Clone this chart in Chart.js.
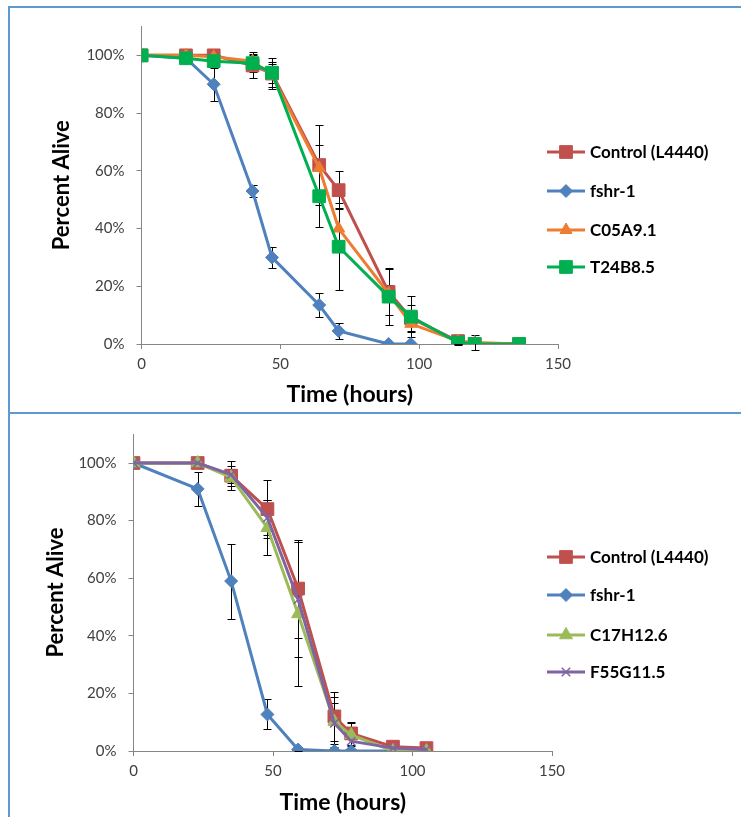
<!DOCTYPE html>
<html>
<head>
<meta charset="utf-8">
<script src="https://cdn.jsdelivr.net/npm/chart.js@4.4.1/dist/chart.umd.min.js"></script>
<style>
  html, body { margin: 0; padding: 0; background: #fff; }
  #page { position: relative; width: 741px; height: 817px; overflow: hidden; }
  .panel { position: absolute; left: 0; }
  .line { position: absolute; background: #5b9bd5; }
</style>
</head>
<body>
<div id="page">
  <div class="line" style="left:8px;top:6px;width:733px;height:2px"></div>
  <div class="line" style="left:8px;top:6px;width:2px;height:811px"></div>
  <div class="line" style="left:8px;top:412px;width:733px;height:2px"></div>
  <div class="panel" style="top:0"><canvas id="chartTop" width="741" height="412"></canvas></div>
  <div class="panel" style="top:413px"><canvas id="chartBottom" width="741" height="404"></canvas></div>
</div>
<script>
// ---- top panel data (hours, percent alive, +/- error) ----
const topTimes = [0, 16, 26, 40, 47, 64, 71, 89, 97, 114, 120, 136];
const topControl = [100, 100, 100, 96.5, 93.7, 62, 53.3, 18, 9, 1, 0, 0];
const topControlErr = [0, 1, 1.5, 4.5, 5.5, 14, 6.5, 8, 4.5, 1, 0, 0];
const topFshr = [100, 99, 90, 53, 30, 13.5, 4.5, 0, 0];
const topFshrErr = [0, 1, 5.7, 2, 3.5, 4, 2.7, 0, 0];
const topC05 = [100, 100, 99.5, 98, 93, 61, 40, 17.5, 7, 1, 0.5, 0];
const topC05Err = [0, 0.5, 1, 2, 4, 8, 7, 3, 3, 1, 2.5, 0];
const topT24 = [100, 99, 98, 97.3, 94, 51.2, 33.7, 16.4, 9.5, 0.5, 0, 0];
const topT24Err = [0, 1, 1.5, 3, 3.7, 10.6, 15, 9.8, 7, 1, 0, 0];

// ---- bottom panel data ----
const botTimes = [0, 23, 35, 48, 59, 72, 78, 93, 105];
const botControl = [100, 100, 95.6, 84, 56.4, 12, 6.1, 1.5, 1];
const botControlErr = [0, 0, 5, 10, 17, 8.6, 4, 0.5, 0.5];
const botFshr = [100, 91, 59, 12.7, 0.5, 0, 0, 0];
const botFshrErr = [0, 6, 13, 5.2, 0.5, 0, 0, 0];
const botC17 = [100, 100, 95, 77.5, 47.6, 10.2, 5.6, 0, 0];
const botC17Err = [0, 0, 3, 9.5, 25, 8.7, 4, 0, 0];
const botF55 = [100, 100, 96, 81, 52.6, 9.6, 3.4, 1, 0.5];
const botF55Err = [0, 0, 3, 6, 20, 7, 3, 0, 0];

const xTicks = [0, 50, 100, 150];
const yTicks = [0, 20, 40, 60, 80, 100];

const FONT = 'Lato';

function points(times, vals){
  return vals.map((v, i) => ({ x: times[i], y: v }));
}

function series(label, times, vals, errs, color, style, radius, order){
  return {
    label: label,
    data: points(times, vals),
    errors: errs,
    borderColor: color,
    backgroundColor: color,
    borderWidth: 3,
    pointStyle: style,
    pointRadius: radius,
    pointHoverRadius: radius,
    pointBackgroundColor: color,
    pointBorderColor: color,
    pointBorderWidth: style === 'crossRot' ? 1.5 : 1,
    tension: 0,
    order: order
  };
}

// black error bars with caps, placed through the chart's own scales
const errorBars = {
  id: 'errorBars',
  beforeDatasetsDraw(chart){
    const ctx = chart.ctx;
    const xs = chart.scales.x, ys = chart.scales.y;
    ctx.save();
    ctx.strokeStyle = '#000';
    ctx.lineWidth = 1;
    chart.data.datasets.forEach(ds => {
      if(!ds.errors) return;
      ds.data.forEach((p, i) => {
        const e = ds.errors[i];
        if(!e) return;
        const px = Math.round(xs.getPixelForValue(p.x)) + 0.5;
        const y1 = Math.round(ys.getPixelForValue(p.y + e)) + 0.5;
        const y2 = Math.round(ys.getPixelForValue(p.y - e)) + 0.5;
        ctx.beginPath();
        ctx.moveTo(px, y1); ctx.lineTo(px, y2);
        ctx.moveTo(px - 4, y1); ctx.lineTo(px + 4, y1);
        ctx.moveTo(px - 4, y2); ctx.lineTo(px + 4, y2);
        ctx.stroke();
      });
    });
    ctx.restore();
  }
};

// Excel style legend: line through the marker, bold label to the right
const sideLegend = {
  id: 'sideLegend',
  afterDraw(chart, args, opts){
    const ctx = chart.ctx;
    ctx.save();
    chart.data.datasets.forEach((ds, i) => {
      const y = opts.rows[i];
      ctx.strokeStyle = ds.borderColor;
      ctx.lineWidth = 3;
      ctx.beginPath();
      ctx.moveTo(opts.x, y);
      ctx.lineTo(opts.x + 38, y);
      ctx.stroke();
      ctx.fillStyle = ds.pointBackgroundColor;
      ctx.strokeStyle = ds.pointBorderColor;
      ctx.lineWidth = ds.pointBorderWidth;
      Chart.helpers.drawPoint(ctx, { pointStyle: ds.pointStyle, radius: ds.pointRadius, borderWidth: ds.pointBorderWidth, rotation: 0 }, opts.x + 19, y);
      ctx.fillStyle = '#000';
      ctx.font = 'bold 17px ' + FONT;
      ctx.textAlign = 'left';
      ctx.textBaseline = 'middle';
      ctx.fillText(ds.label, opts.x + 43, y + 1);
    });
    ctx.restore();
  }
};

function makeScales(o){
  return {
    x: {
      type: 'linear', min: 0, max: 150,
      afterBuildTicks: s => { s.ticks = xTicks.map(v => ({ value: v })); },
      afterFit: s => { s.height = o.xHeight; },
      ticks: { color: '#404040', font: { family: FONT, size: 15 }, padding: 6 },
      grid: { drawOnChartArea: false, tickLength: 5, color: '#868686' },
      border: { color: '#868686', width: 1 },
      title: { display: true, text: 'Time (hours)', color: '#000',
        font: { family: FONT, size: 23, weight: 'bold' }, padding: { top: 0, bottom: o.xTitlePad } }
    },
    y: {
      type: 'linear', min: 0, max: 110,
      afterBuildTicks: s => { s.ticks = yTicks.map(v => ({ value: v })); },
      afterFit: s => { s.width = o.yWidth; },
      ticks: { color: '#404040', font: { family: FONT, size: 15 }, padding: 12, callback: v => v + '%' },
      grid: { drawOnChartArea: false, tickLength: 5, color: '#868686' },
      border: { color: '#868686', width: 1 },
      title: { display: true, text: 'Percent Alive', color: '#000',
        font: { family: FONT, size: 22, weight: 'bold' }, padding: { top: o.yTitlePad, bottom: 0 } }
    }
  };
}

function makeChart(id, datasets, o){
  return new Chart(document.getElementById(id), {
    type: 'scatter',
    data: { datasets: datasets },
    options: {
      responsive: false,
      animation: false,
      showLine: true,
      layout: { padding: o.padding },
      scales: makeScales(o),
      plugins: {
        legend: { display: false },
        tooltip: { enabled: false },
        sideLegend: { x: 547, rows: o.rows }
      }
    },
    plugins: [errorBars, sideLegend]
  });
}

makeChart('chartTop', [
  series('Control (L4440)', topTimes, topControl, topControlErr, '#C0504D', 'rect', 9, 4),
  series('fshr-1', topTimes, topFshr, topFshrErr, '#4F81BD', 'rectRot', 6.5, 3),
  series('C05A9.1', topTimes, topC05, topC05Err, '#ED7D31', 'triangle', 7, 2),
  series('T24B8.5', topTimes, topT24, topT24Err, '#00B050', 'rect', 9, 1)
], {
  padding: { left: 0, right: 183, top: 26.5, bottom: 0 },
  xHeight: 68, yWidth: 141.5, xTitlePad: 3.2, yTitlePad: 48.8,
  rows: [152, 191, 230, 267]
});

makeChart('chartBottom', [
  series('Control (L4440)', botTimes, botControl, botControlErr, '#C0504D', 'rect', 9, 4),
  series('fshr-1', botTimes, botFshr, botFshrErr, '#4F81BD', 'rectRot', 6.5, 3),
  series('C17H12.6', botTimes, botC17, botC17Err, '#9BBB59', 'triangle', 7.5, 2),
  series('F55G11.5', botTimes, botF55, botF55Err, '#8064A2', 'crossRot', 6, 1)
], {
  padding: { left: 0, right: 189, top: 21.2, bottom: 0 },
  xHeight: 66, yWidth: 133.5, xTitlePad: 0.2, yTitlePad: 42.8,
  rows: [144, 182, 222, 259]
});
</script>
</body>
</html>
